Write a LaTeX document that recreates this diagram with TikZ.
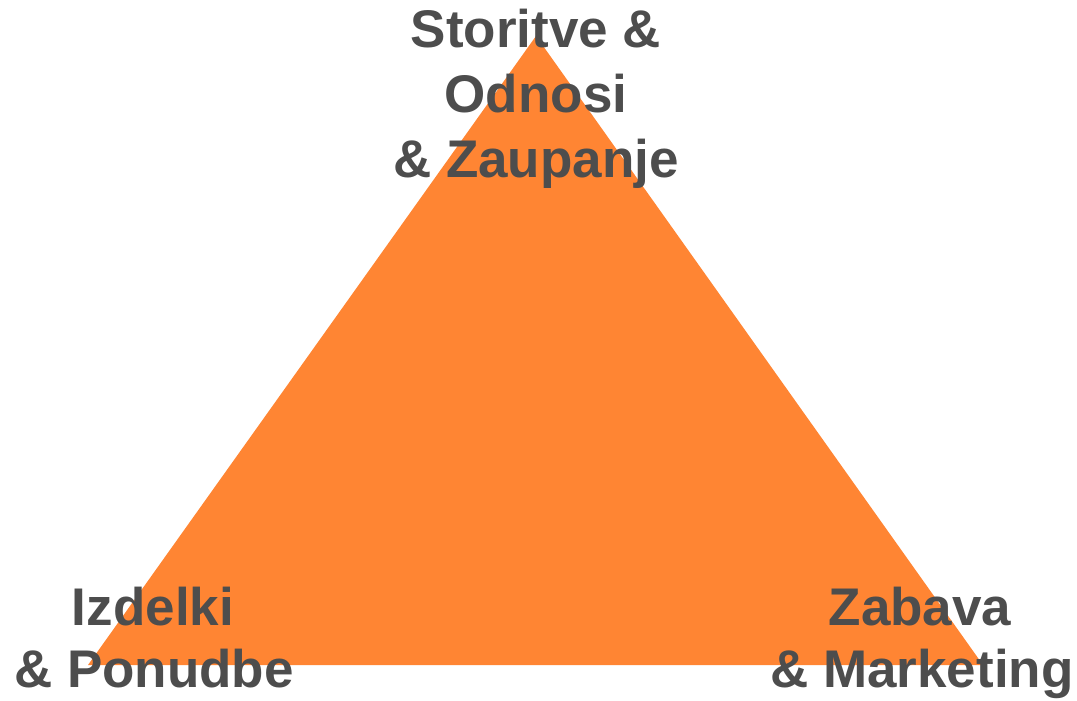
\documentclass[tikz,border=0pt]{standalone}
\usepackage{fontspec}
\setmainfont{Liberation Sans}
\definecolor{tri}{RGB}{255,133,51}
\definecolor{lbl}{RGB}{77,77,77}
\begin{document}
\begin{tikzpicture}[x=1pt,y=-1pt,
  lab/.style={anchor=base,inner sep=0pt,text=lbl,font=\fontsize{53}{62}\selectfont\bfseries}]
\useasboundingbox (0,0) rectangle (1077,701);
\coordinate (apex) at (536,36);
\coordinate (bl) at (88,665);
\coordinate (br) at (983,665);
\fill[tri] (apex) -- (bl) -- (br) -- cycle;
\node[lab] (t1) at (536,48) {Storitve \&};
\node[lab] (t2) at (536,112) {Odnosi};
\node[lab] (t3) at (536,177) {\& Zaupanje};
\node[lab] (l1) at (153,625) {Izdelki};
\node[lab] (l2) at (154,687) {\& Ponudbe};
\node[lab] (r1) at (920,625) {Zabava};
\node[lab] (r2) at (922,687) {\& Marketing};
\end{tikzpicture}
\end{document}
